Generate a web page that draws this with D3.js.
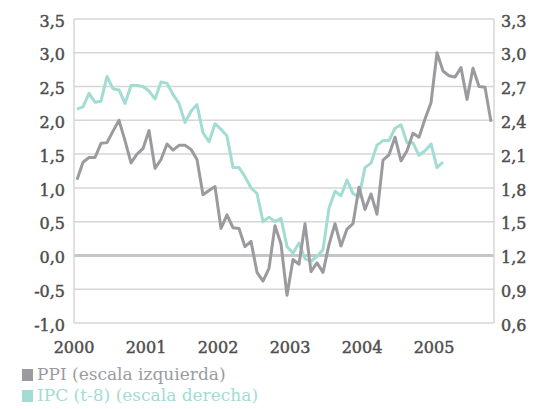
<!DOCTYPE html>
<html>
<head>
<meta charset="utf-8">
<script src="https://cdn.jsdelivr.net/npm/d3@7"></script>
<style>
  body { margin: 0; background: #fff; }
  svg { display: block; font-family: "DejaVu Serif", serif; }
</style>
</head>
<body>
<div id="chart"></div>
<script>
// monthly, Jan 2000 .. Oct 2005
const ppi = [1.12, 1.38, 1.45, 1.45, 1.66, 1.67, 1.84, 2.00, 1.70, 1.37, 1.50, 1.58,
  1.85, 1.29, 1.42, 1.65, 1.56, 1.63, 1.63, 1.57, 1.42, 0.90, 0.96, 1.02,
  0.40, 0.60, 0.41, 0.40, 0.13, 0.21, -0.25, -0.38, -0.19, 0.44, 0.17, -0.59,
  -0.06, -0.13, 0.47, -0.24, -0.11, -0.25, 0.16, 0.47, 0.14, 0.39, 0.47, 1.01,
  0.68, 0.91, 0.61, 1.41, 1.49, 1.75, 1.40, 1.55, 1.81, 1.75, 2.02, 2.26,
  3.00, 2.73, 2.66, 2.64, 2.78, 2.31, 2.77, 2.50, 2.49, 1.98];
// IPC (t-8), right scale
const ipc = [2.50, 2.52, 2.64, 2.56, 2.57, 2.79, 2.68, 2.67, 2.55, 2.71, 2.71, 2.70,
  2.66, 2.59, 2.74, 2.73, 2.63, 2.55, 2.38, 2.48, 2.54, 2.29, 2.21, 2.37,
  2.32, 2.26, 1.98, 1.98, 1.90, 1.80, 1.75, 1.50, 1.54, 1.50, 1.53, 1.28,
  1.22, 1.31, 1.17, 1.15, 1.19, 1.25, 1.62, 1.77, 1.73, 1.87, 1.75, 1.72,
  1.98, 2.02, 2.18, 2.22, 2.22, 2.33, 2.36, 2.20, 2.20, 2.09, 2.13, 2.19,
  1.98, 2.03];
const years = ['2000', '2001', '2002', '2003', '2004', '2005'];
const leftTicks = [-1.0, -0.5, 0, 0.5, 1.0, 1.5, 2.0, 2.5, 3.0, 3.5];
const rightTicks = [0.6, 0.9, 1.2, 1.5, 1.8, 2.1, 2.4, 2.7, 3.0, 3.3];
const legendItems = ['PPI (escala izquierda)', 'IPC (t-8) (escala derecha)'];

const W = 544, H = 409;
const margin = { left: 74, right: 50, top: 19, bottom: 86 };
const grey = '#9b9b9f', teal = '#a2dcd3';
const fmt = d3.format('.1f');
const comma = v => fmt(v).replace('.', ',').replace('\u2212', '-');

const svg = d3.select('#chart').append('svg')
  .attr('width', W).attr('height', H);

const x = d3.scaleBand()
  .domain(d3.range(ppi.length))
  .range([margin.left, W - margin.right]);
const yL = d3.scaleLinear().domain([-1, 3.5]).range([H - margin.bottom, margin.top]);
const yR = d3.scaleLinear().domain([0.6, 3.3]).range([H - margin.bottom, margin.top]);
const cx = i => x(i) + x.bandwidth() / 2;

// gridlines
svg.append('g')
  .selectAll('line')
  .data(leftTicks)
  .join('line')
  .attr('x1', margin.left).attr('x2', W - margin.right)
  .attr('y1', d => yL(d)).attr('y2', d => yL(d))
  .attr('stroke', d => d === 0 ? '#c6c6c6' : '#d6d6d6')
  .attr('stroke-width', d => d === 0 ? 3 : 1.5);

// side frame
[margin.left, W - margin.right].forEach(xx => {
  svg.append('line')
    .attr('x1', xx).attr('x2', xx)
    .attr('y1', yL(3.5)).attr('y2', yL(-1))
    .attr('stroke', '#d6d6d6').attr('stroke-width', 1.5);
});

// left axis
const axL = svg.append('g')
  .attr('transform', `translate(${margin.left},0)`)
  .call(d3.axisLeft(yL).tickValues(leftTicks).tickFormat(comma).tickSize(0).tickPadding(9));
axL.select('.domain').remove();

// right axis
const axR = svg.append('g')
  .attr('transform', `translate(${W - margin.right},0)`)
  .call(d3.axisRight(yR).tickValues(rightTicks).tickFormat(comma).tickSize(0).tickPadding(7));
axR.select('.domain').remove();

svg.selectAll('.tick text')
  .attr('font-family', '"DejaVu Serif", serif')
  .attr('font-size', 16)
  .attr('fill', '#4d4d4d')
  .attr('stroke', '#4d4d4d')
  .attr('stroke-width', 0.45)
  .attr('dy', '0.45em');

// year labels
svg.append('g')
  .selectAll('text')
  .data(years)
  .join('text')
  .attr('x', (d, i) => x(i * 12))
  .attr('y', 353)
  .attr('text-anchor', 'middle')
  .attr('font-size', 16)
  .attr('fill', '#4d4d4d')
  .attr('stroke', '#4d4d4d')
  .attr('stroke-width', 0.45)
  .text(d => d);

// lines
const lineL = d3.line().x((d, i) => cx(i)).y(d => yL(d));
const lineR = d3.line().x((d, i) => cx(i)).y(d => yR(d));

svg.append('path')
  .datum(ipc)
  .attr('fill', 'none')
  .attr('stroke', teal)
  .attr('stroke-width', 3)
  .attr('stroke-linejoin', 'round')
  .attr('d', lineR);

svg.append('path')
  .datum(ppi)
  .attr('fill', 'none')
  .attr('stroke', grey)
  .attr('stroke-width', 3)
  .attr('stroke-linejoin', 'round')
  .attr('d', lineL);

// legend
const lg = svg.append('g')
  .selectAll('g')
  .data(legendItems)
  .join('g')
  .attr('transform', (d, i) => `translate(22,${369 + i * 21})`);
lg.append('rect')
  .attr('width', 11).attr('height', 12)
  .attr('fill', (d, i) => i === 0 ? grey : teal);
lg.append('text')
  .attr('x', 15).attr('y', 11)
  .attr('font-size', 17)
  .attr('fill', (d, i) => i === 0 ? grey : teal)
  .text(d => d);
</script>
</body>
</html>
